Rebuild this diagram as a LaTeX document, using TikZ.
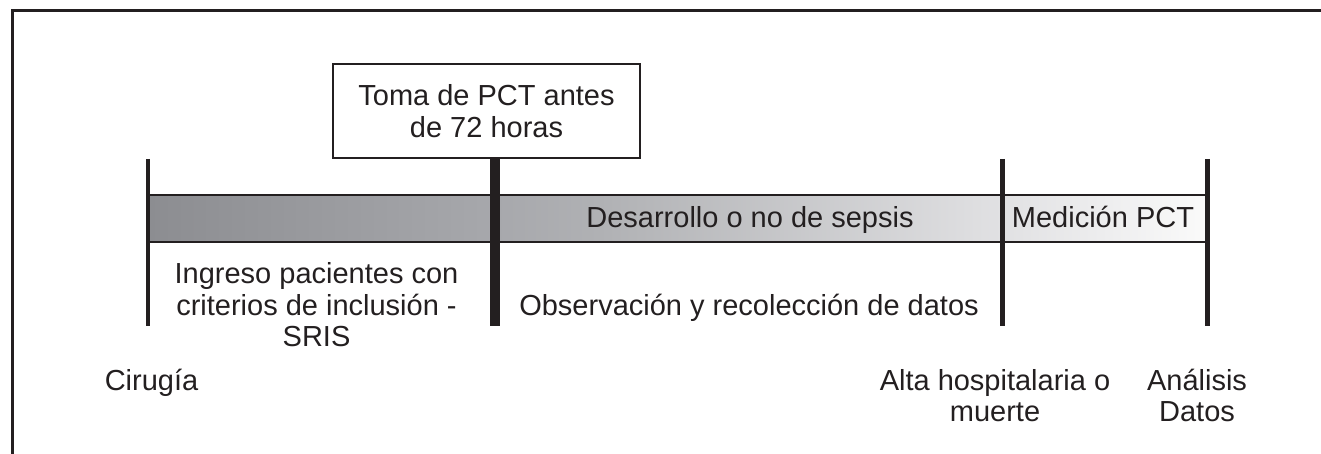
\documentclass[tikz,border=0pt]{standalone}
\usepackage{fontspec}
\setmainfont{Liberation Sans}
\definecolor{ink}{RGB}{35,31,32}
\definecolor{gA}{RGB}{140,141,145}
\definecolor{gB}{RGB}{167,168,172}
\definecolor{gC}{RGB}{176,177,180}
\definecolor{gD}{RGB}{225,225,227}
\definecolor{gE}{RGB}{250,250,250}
\pgfdeclarehorizontalshading{barshade}{100bp}{color(0bp)=(gA); color(25bp)=(gA); color(41.4bp)=(gB); color(46.3bp)=(gC); color(65.3bp)=(gD); color(75bp)=(gE); color(100bp)=(gE)}
\begin{document}
\begin{tikzpicture}[x=1pt,y=-1pt,
  every node/.style={text=ink, font=\fontsize{29}{31.5}\selectfont},
  lbl/.style={align=center, inner sep=0pt},
  tickline/.style={draw=ink, line width=#1}]
\useasboundingbox (0,0) rectangle (1321,454);
% frame
\draw[ink, line width=3] (12,454) -- (12,11) -- (1321,11);
% shaded bar
\node[draw=ink, line width=2.5, shading=barshade, minimum width=1059, minimum height=47, inner sep=0] (bar) at (677.5,218.5) {};
% top box
\node[draw=ink, line width=2, fill=white, minimum width=307, minimum height=94, inner sep=0, align=center] (toma) at (486.5,111) {Toma de PCT antes\\de 72 horas};
% ticks
\coordinate (t1a) at (148,159); \coordinate (t1b) at (148,326);
\coordinate (t2b) at (495,326);
\coordinate (t3a) at (1002,159); \coordinate (t3b) at (1002,326);
\coordinate (t4a) at (1207,159); \coordinate (t4b) at (1207,326);
\draw[tickline=4] (t1a) -- (t1b);
\draw[tickline=10] (toma.south -| t2b) -- (t2b);
\draw[tickline=5] (t3a) -- (t3b);
\draw[tickline=5] (t4a) -- (t4b);
% labels
\node[lbl, anchor=base] (des) at (750,228) {Desarrollo o no de sepsis};
\node[lbl, anchor=base] (med) at (1103,228) {Medición PCT};
\node[lbl, anchor=base] (ing) at (316.5,346.5) {Ingreso pacientes con\\criterios de inclusión -\\SRIS};
\node[lbl, anchor=base] (obs) at (749,315) {Observación y recolección de datos};
\node[lbl, anchor=base] (cir) at (151.5,390) {Cirugía};
\node[lbl, anchor=base] (alta) at (995,421.5) {Alta hospitalaria o\\muerte};
\node[lbl, anchor=base] (ana) at (1197,421.5) {Análisis\\Datos};
\end{tikzpicture}
\end{document}
